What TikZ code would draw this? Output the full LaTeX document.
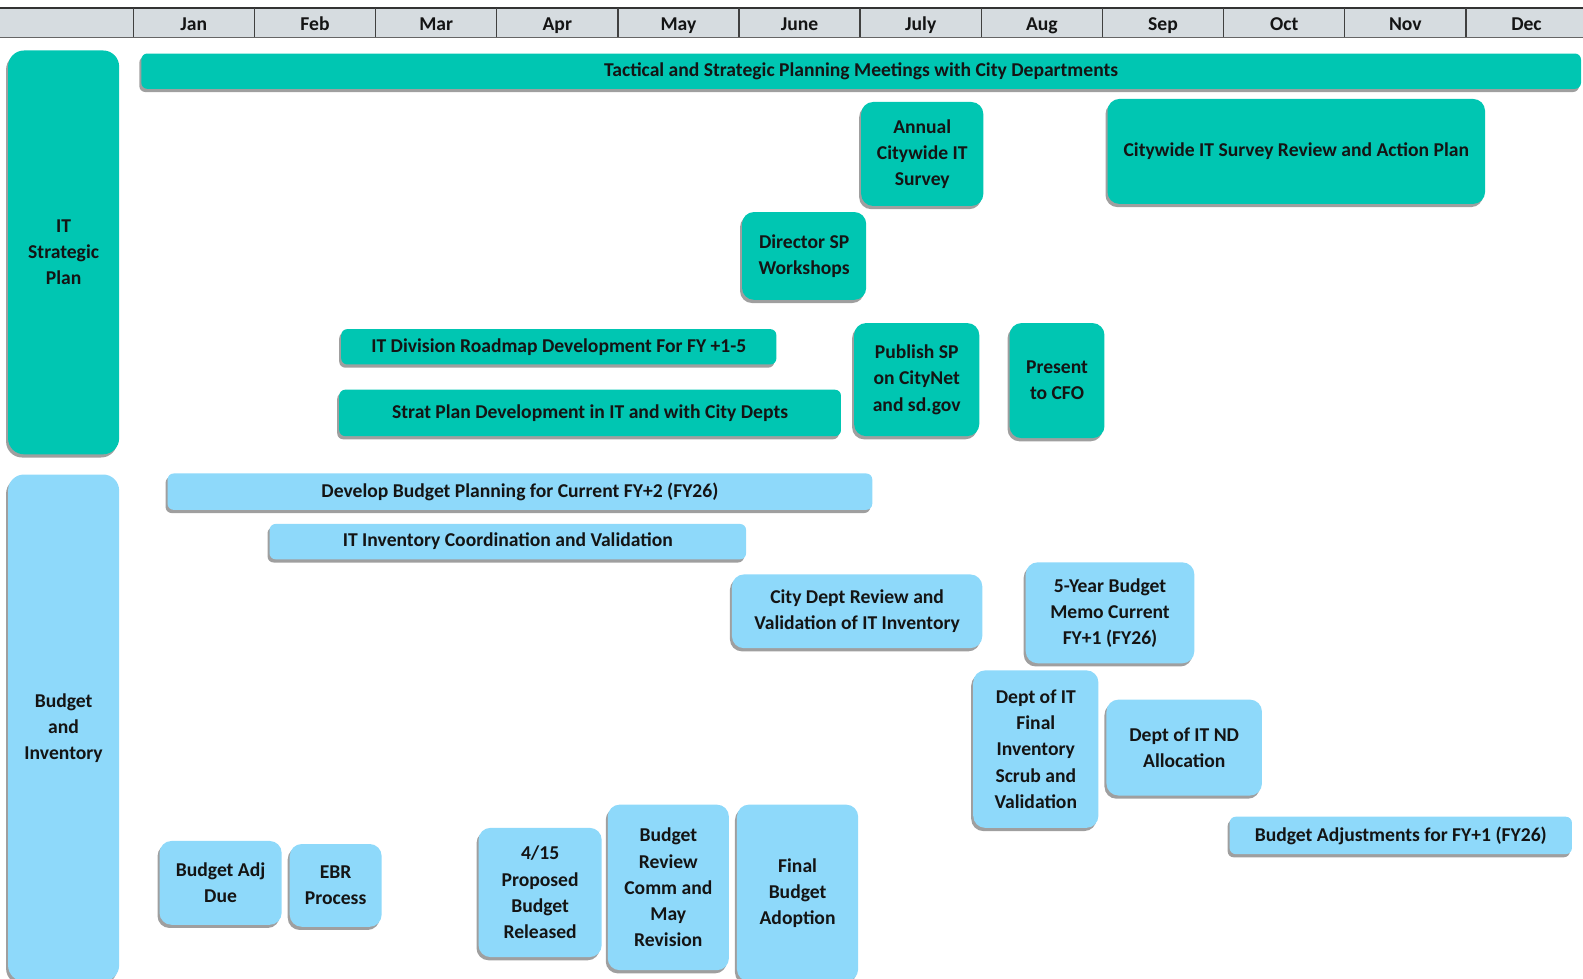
\documentclass[tikz,border=0pt]{standalone}
\usepackage{fontspec}
\setmainfont{Carlito}
\usetikzlibrary{shadows}
\definecolor{tealc}{RGB}{0,198,178}
\definecolor{bluec}{RGB}{142,217,250}
\definecolor{headc}{RGB}{214,220,224}
\definecolor{txtc}{RGB}{20,20,20}
\newcommand\bx[8]{%
  \pgfmathsetmacro\bw{(#5-#3)*0.5048}%
  \pgfmathsetmacro\bh{(#6-#4)*0.5048}%
  \node[#2, minimum width=\bw pt, minimum height=\bh pt] (#1) at ({(#3+#5)/2},{(#4+#6)/2+#7}) {#8};}
\tikzset{
  box/.style={rounded corners=6pt, draw=none, align=center, inner sep=0pt,
    font=\fontsize{9.8}{13.1}\selectfont\bfseries, text=txtc,
    drop shadow={shadow xshift=-1.0pt, shadow yshift=-1.6pt, opacity=0.5, fill=black!75}},
  tealbox/.style={box, fill=tealc},
  bluebox/.style={box, fill=bluec},
  bar/.style={rounded corners=3pt},
  rail/.style={rounded corners=8pt},
  month/.style={font=\fontsize{9.8}{12}\selectfont\bfseries, text=txtc},
  divider/.style={draw=black!75, line width=0.7pt}
}
\begin{document}
\begin{tikzpicture}[x=0.5048pt, y=-0.5048pt]
\useasboundingbox (0,0) rectangle (1568,969);
% header
\fill[headc] (0,8) rectangle (1568,37);
\draw[black!60, line width=0.5pt] (0,37) -- (1568,37);
\draw[black!80, line width=1pt] (0,8) -- (1568,8);
\foreach \i/\m in {0/Jan,1/Feb,2/Mar,3/Apr,4/May,5/June,6/July,7/Aug,8/Sep,9/Oct,10/Nov,11/Dec}{
  \draw[divider] ({132+120*\i},8) -- ({132+120*\i},37);
  \node[month, anchor=base] (m\i) at ({192+120*\i},30.5) {\m};
}
% rails
\bx{itsp}{tealbox, rail}{8}{50}{118}{450}{0}{IT\\Strategic\\Plan}
\bx{budinv}{bluebox, rail}{8}{470}{118}{972}{0}{Budget\\and\\Inventory}
% IT strategic plan items
\bx{tact}{tealbox, bar}{140}{53}{1566}{88}{0}{Tactical and Strategic Planning Meetings with City Departments}
\bx{survey}{tealbox}{853}{101}{974}{204}{0}{Annual\\Citywide IT\\Survey}
\bx{review}{tealbox}{1097}{98}{1471}{202}{0}{Citywide IT Survey Review and Action Plan}
\bx{dirsp}{tealbox}{735}{210}{858}{297}{0}{Director SP\\Workshops}
\bx{roadmap}{tealbox, bar}{338}{326}{769}{361}{0}{IT Division Roadmap Development For FY +1-5}
\bx{strat}{tealbox, bar}{336}{386}{833}{432}{0}{Strat Plan Development in IT and with City Depts}
\bx{publish}{tealbox}{846}{320}{970}{432}{0}{Publish SP\\on CityNet\\and sd.gov}
\bx{cfo}{tealbox}{1000}{320}{1094}{434}{0}{Present\\to CFO}
% budget items
\bx{develop}{bluebox, bar}{166}{469}{864}{505}{0}{Develop Budget Planning for Current FY+2 (FY26)}
\bx{invcoord}{bluebox, bar}{267}{519}{739}{554}{0}{IT Inventory Coordination and Validation}
\bx{citydept}{bluebox}{725}{569}{973}{642}{0}{City Dept Review and\\Validation of IT Inventory}
\bx{memo}{bluebox}{1016}{557}{1183}{657}{0}{5-Year Budget\\Memo Current\\FY+1 (FY26)}
\bx{scrub}{bluebox}{964}{664}{1088}{820}{0}{Dept of IT\\Final\\Inventory\\Scrub and\\Validation}
\bx{nd}{bluebox}{1096}{693}{1250}{788}{0}{Dept of IT ND\\Allocation}
\bx{adjfy}{bluebox, bar}{1218}{809}{1557}{846}{0}{Budget Adjustments for FY+1 (FY26)}
\bx{adjdue}{bluebox}{158}{833}{279}{916}{0}{Budget Adj\\Due}
\bx{ebr}{bluebox}{287}{836}{378}{918}{0}{EBR\\Process}
\bx{proposed}{bluebox}{474}{820}{596}{948}{0}{4/15\\Proposed\\Budget\\Released}
\bx{comm}{bluebox}{602}{797}{722}{961}{0}{Budget\\Review\\Comm and\\May\\Revision}
\bx{final}{bluebox}{730}{797}{850}{972}{0}{Final\\Budget\\Adoption}
\end{tikzpicture}
\end{document}
